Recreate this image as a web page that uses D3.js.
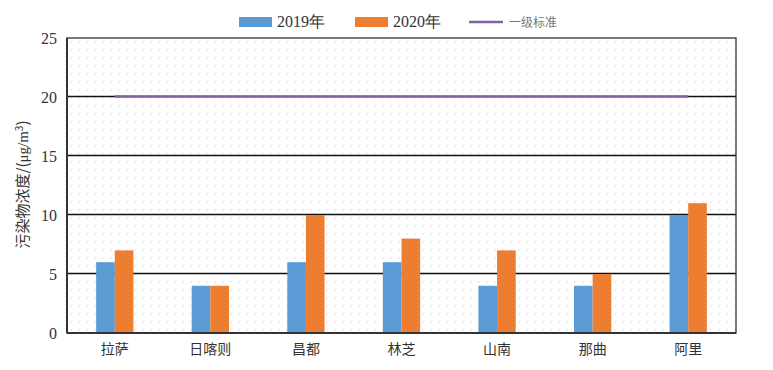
<!DOCTYPE html>
<html>
<head>
<meta charset="utf-8">
<script src="https://cdn.jsdelivr.net/npm/d3@7"></script>
<style>
  body { margin: 0; background: #fff; }
  svg { display: block; }
</style>
</head>
<body>
<svg id="chart" width="773" height="370"></svg>
<script>
// Data
const cities = ['拉萨', '日喀则', '昌都', '林芝', '山南', '那曲', '阿里'];
const values2019 = [6, 4, 6, 6, 4, 4, 10];
const values2020 = [7, 4, 10, 8, 7, 5, 11];
const standardLevel = 20;
const yTicks = [0, 5, 10, 15, 20, 25];
const seriesNames = ['2019年', '2020年'];
const standardName = '一级标准';

const colors = ['#5b9bd5', '#ed7d31'];
const standardColor = '#8064a2';
const serif = "'Liberation Serif', serif";
const cjk = "'Noto Sans CJK SC', sans-serif";

const margin = { top: 38, right: 37, bottom: 37, left: 67 };
const width = 773 - margin.left - margin.right;
const height = 370 - margin.top - margin.bottom;

const svg = d3.select('#chart');

// Dotted background fill
const defs = svg.append('defs');
const pattern = defs.append('pattern')
  .attr('id', 'dots')
  .attr('width', 8)
  .attr('height', 8)
  .attr('patternUnits', 'userSpaceOnUse');
pattern.append('circle')
  .attr('cx', 4).attr('cy', 4).attr('r', 0.7)
  .attr('fill', '#cfcfcf');

const g = svg.append('g')
  .attr('transform', `translate(${margin.left},${margin.top})`);

const x = d3.scaleBand()
  .domain(cities)
  .range([0, width]);

const y = d3.scaleLinear()
  .domain([0, 25])
  .range([height, 0]);

const barW = x.bandwidth() * 0.195;

g.append('rect')
  .attr('width', width)
  .attr('height', height)
  .attr('fill', 'url(#dots)');

// Gridlines
g.selectAll('line.grid')
  .data(yTicks.slice(1, -1))
  .enter().append('line')
  .attr('class', 'grid')
  .attr('x1', 0)
  .attr('x2', width)
  .attr('y1', (d) => Math.round(y(d)) - 0.5)
  .attr('y2', (d) => Math.round(y(d)) - 0.5)
  .attr('stroke', '#111')
  .attr('stroke-width', 1.4);

// Bars
const series = [values2019, values2020];
series.forEach((vals, si) => {
  g.selectAll(`rect.bar${si}`)
    .data(vals)
    .enter().append('rect')
    .attr('class', `bar${si}`)
    .attr('x', (d, i) => x(cities[i]) + x.bandwidth() / 2 + (si - 1) * barW)
    .attr('y', (d) => y(d))
    .attr('width', barW)
    .attr('height', (d) => y(0) - y(d))
    .attr('fill', colors[si]);
});

// Standard line from first to last category centre
const stdLine = d3.line()
  .x((d) => x(d) + x.bandwidth() / 2)
  .y(() => y(standardLevel) - 0.5);
g.append('path')
  .datum(cities)
  .attr('d', stdLine)
  .attr('fill', 'none')
  .attr('stroke', standardColor)
  .attr('stroke-width', 2.4);

// Frame
g.append('rect')
  .attr('width', width)
  .attr('height', height)
  .attr('fill', 'none')
  .attr('stroke', '#333')
  .attr('stroke-width', 1.3);
g.append('line')
  .attr('x1', 0).attr('x2', width)
  .attr('y1', height).attr('y2', height)
  .attr('stroke', '#333').attr('stroke-width', 2);
g.append('line')
  .attr('x1', 0).attr('x2', 0)
  .attr('y1', 0).attr('y2', height)
  .attr('stroke', '#333').attr('stroke-width', 2);

// Axes
const yAxis = g.append('g')
  .call(d3.axisLeft(y).tickValues(yTicks).tickSize(0).tickPadding(10));
yAxis.select('.domain').remove();
yAxis.selectAll('text')
  .style('font-size', '16px')
  .style('font-family', serif)
  .attr('fill', '#333');

const xAxis = g.append('g')
  .attr('transform', `translate(0,${height})`)
  .call(d3.axisBottom(x).tickSize(0).tickPadding(11));
xAxis.select('.domain').remove();
xAxis.selectAll('text')
  .style('font-size', '14px')
  .style('font-family', cjk)
  .attr('fill', '#333');

// Y axis title
svg.append('text')
  .attr('transform', `translate(28,${margin.top + height / 2 - 1}) rotate(-90)`)
  .attr('text-anchor', 'middle')
  .style('font-size', '15px')
  .attr('fill', '#333')
  .style('font-family', cjk)
  .html('污染物浓度/(<tspan style="font-family: \'Liberation Serif\', serif">μg/m</tspan><tspan dy="-5" font-size="10">3</tspan><tspan dy="5">)</tspan>');

// Legend
const legend = svg.append('g').attr('class', 'legend');
const legendX = [239, 355];
seriesNames.forEach((name, i) => {
  legend.append('rect')
    .attr('x', legendX[i])
    .attr('y', 17)
    .attr('width', 33)
    .attr('height', 10)
    .attr('fill', colors[i]);
  legend.append('text')
    .attr('x', legendX[i] + 38)
    .attr('y', 27)
    .style('font-size', '16px')
    .attr('fill', '#333')
    .style('font-family', serif)
    .text(name);
});
legend.append('line')
  .attr('x1', 469).attr('x2', 503)
  .attr('y1', 22).attr('y2', 22)
  .attr('stroke', standardColor)
  .attr('stroke-width', 2.4);
legend.append('text')
  .attr('x', 509)
  .attr('y', 27)
  .style('font-size', '12px')
  .attr('fill', '#777')
  .style('font-family', cjk)
  .text(standardName);
</script>
</body>
</html>
